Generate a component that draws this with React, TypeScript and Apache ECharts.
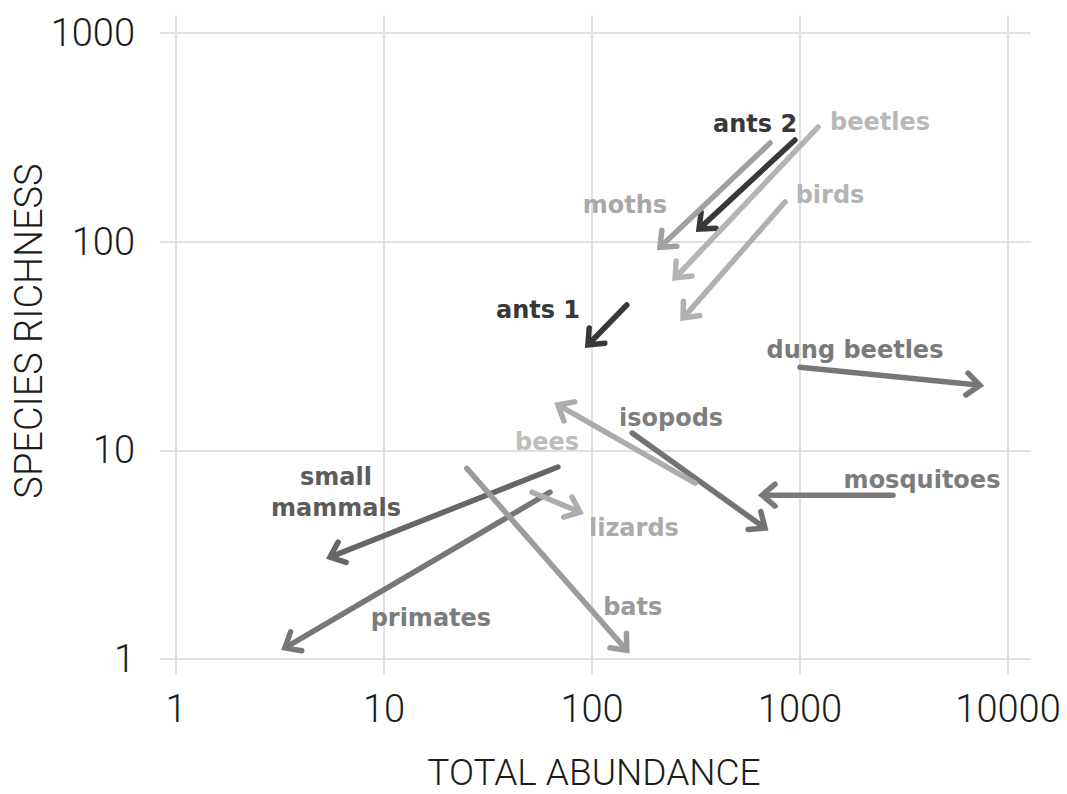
import React, { useEffect, useRef } from "react";
import * as echarts from "echarts";

// Taxa (arrow from "before" to "after" state)
const names = [
  "ants 2", "moths", "beetles", "birds", "ants 1", "dung beetles", "mosquitoes",
  "isopods", "bees", "small\nmammals", "primates", "lizards", "bats",
];
const startAbundance = [946, 718, 1221, 847, 147, 1000, 2800, 156, 313, 68.6, 62.8, 51.5, 25];
const startRichness = [307, 297, 354, 155, 49.7, 25, 6.1, 12.1, 6.97, 8.32, 6.3, 6.3, 8.2];
const endAbundance = [327, 212, 251, 274, 95.6, 7330, 657, 679, 68.6, 5.5, 3.34, 87.5, 147];
const endRichness = [115, 94, 67, 43, 32, 20.5, 6.1, 4.24, 16.5, 3.08, 1.13, 5.06, 1.1];
// Label anchor (data coordinates)
const labelAbundance = [608, 144, 2426, 1394, 55, 1838, 3860, 240, 60.8, 5.88, 16.8, 159, 157];
const labelRichness = [366, 150, 374, 167, 47, 30.3, 7.2, 14.3, 10.96, 6.31, 1.57, 4.24, 1.78];

const xTicks = [1, 10, 100, 1000, 10000];
const yTicks = [1, 10, 100, 1000];

// styles
const arrowColors = ["#383838", "#a0a0a0", "#b4b4b4", "#b0b0b0", "#383838", "#777777", "#7a7a7a",
  "#737373", "#acacac", "#666666", "#777777", "#adadad", "#9c9c9c"];
const textColors = ["#383838", "#a8a8a8", "#b8b8b8", "#b4b4b4", "#383838", "#7a7a7a", "#7c7c7c",
  "#7f7f7f", "#bdbdbd", "#5c5c5c", "#7c7c7c", "#ababab", "#9a9a9a"];

const gridColor = "#e0e0e0";
const axisFont = { fontSize: 38, fontFamily: "Roboto", fontWeight: 300, color: "#1c1c1c" };

export default function App() {
  const ref = useRef<HTMLDivElement>(null);
  useEffect(() => {
    if (!ref.current) return;
    const chart = echarts.init(ref.current, null, { renderer: "svg" });
    const arrowData = names.map((n, i) => [startAbundance[i], startRichness[i], endAbundance[i], endRichness[i]]);
    const labelData = names.map((n, i) => [labelAbundance[i], labelRichness[i]]);
    const tickFmt = (v: number) => String(Math.round(v));
    const option: any = {
      animation: false,
      backgroundColor: "#ffffff",
      grid: { left: 176, right: 59, top: 33, bottom: 135, containLabel: false },
      xAxis: [
        {
          type: "log", logBase: 10, min: xTicks[0], max: xTicks[xTicks.length - 1], position: "bottom",
          axisLine: { show: false },
          axisTick: { show: true, length: 16, lineStyle: { color: gridColor, width: 2 } },
          axisLabel: { ...axisFont, margin: 31, formatter: tickFmt },
          splitLine: { show: true, lineStyle: { color: gridColor, width: 2 } },
          minorTick: { show: false }, minorSplitLine: { show: false },
        },
        {
          type: "log", logBase: 10, min: xTicks[0], max: xTicks[xTicks.length - 1], position: "top",
          axisLine: { show: false },
          axisTick: { show: true, length: 18, lineStyle: { color: gridColor, width: 2 } },
          axisLabel: { show: false }, splitLine: { show: false },
        },
      ],
      yAxis: [
        {
          type: "log", logBase: 10, min: yTicks[0], max: yTicks[yTicks.length - 1], position: "left",
          axisLine: { show: false },
          axisTick: { show: true, length: 16, lineStyle: { color: gridColor, width: 2 } },
          axisLabel: { ...axisFont, margin: 41, formatter: tickFmt },
          splitLine: { show: true, lineStyle: { color: gridColor, width: 2 } },
        },
        {
          type: "log", logBase: 10, min: yTicks[0], max: yTicks[yTicks.length - 1], position: "right",
          axisLine: { show: false },
          axisTick: { show: true, length: 23, lineStyle: { color: gridColor, width: 2 } },
          axisLabel: { show: false }, splitLine: { show: false },
        },
      ],
      graphic: [
        {
          type: "text", x: 594, y: 772,
          style: { text: "TOTAL ABUNDANCE", fontSize: 37, fontFamily: "Roboto", fontWeight: 300, fill: "#1c1c1c", align: "center", verticalAlign: "middle" },
        },
        {
          type: "text", x: 29, y: 331, rotation: Math.PI / 2,
          style: { text: "SPECIES RICHNESS", fontSize: 38, fontFamily: "Roboto", fontWeight: 300, fill: "#1c1c1c", align: "center", verticalAlign: "middle" },
        },
      ],
      series: [
        {
          type: "custom",
          xAxisIndex: 0, yAxisIndex: 0,
          encode: { x: [0, 2], y: [1, 3] },
          data: arrowData,
          renderItem: (params: any, api: any) => {
            const i = params.dataIndex;
            const p0 = api.coord([api.value(0), api.value(1)]);
            const p1 = api.coord([api.value(2), api.value(3)]);
            const a = Math.atan2(p1[1] - p0[1], p1[0] - p0[0]);
            const L = 17, th = (40 * Math.PI) / 180;
            const h1 = [p1[0] - L * Math.cos(a - th), p1[1] - L * Math.sin(a - th)];
            const h2 = [p1[0] - L * Math.cos(a + th), p1[1] - L * Math.sin(a + th)];
            const sEnd = [p1[0] - 2 * Math.cos(a), p1[1] - 2 * Math.sin(a)];
            const color = arrowColors[i];
            return {
              type: "group",
              children: [
                { type: "line", shape: { x1: p0[0], y1: p0[1], x2: sEnd[0], y2: sEnd[1] }, style: { stroke: color, lineWidth: 5.5, lineCap: "round" } },
                { type: "polyline", shape: { points: [h1, p1, h2] }, style: { stroke: color, fill: "none", lineWidth: 5.5, lineJoin: "miter", lineCap: "round" } },
              ],
            };
          },
          z: 3,
        },
        {
          type: "custom",
          xAxisIndex: 0, yAxisIndex: 0,
          data: labelData,
          renderItem: (params: any, api: any) => {
            const i = params.dataIndex;
            const p = api.coord([api.value(0), api.value(1)]);
            return {
              type: "text", x: p[0], y: p[1],
              style: {
                text: names[i], fill: textColors[i], fontSize: 24, fontFamily: "DejaVu Sans", fontWeight: "bold",
                align: "center", verticalAlign: "middle", lineHeight: 31,
              },
            };
          },
          z: 4,
        },
      ],
    };
    chart.setOption(option);
    return () => chart.dispose();
  }, []);
  return <div ref={ref} style={{ position: "absolute", left: 0, top: 0, width: 1067, height: 794, background: "#fff" }} />;
}
